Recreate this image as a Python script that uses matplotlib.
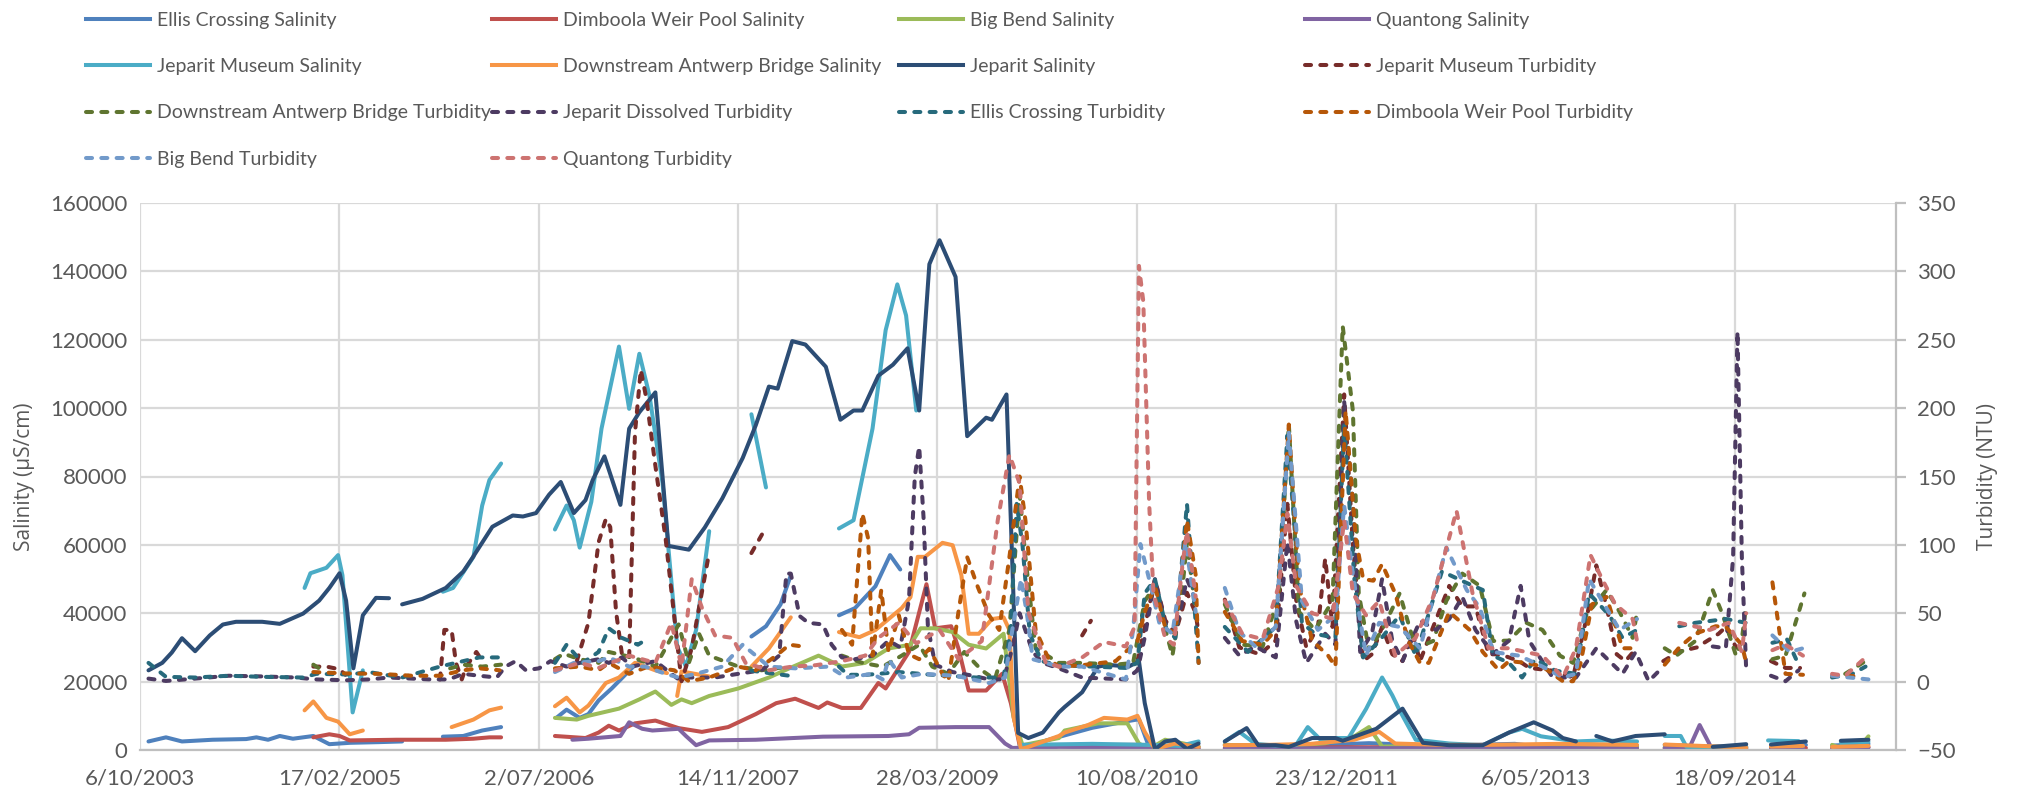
import numpy as np
import pandas as pd
import matplotlib
matplotlib.use('Agg')
import matplotlib.pyplot as plt
from matplotlib.lines import Line2D

# time axis: Excel date axis starting 6/10/2003 with a 500 day major unit
START = pd.Timestamp('2003-10-06')
END = pd.Timestamp('2015-10-27')
TICK_DAYS = 500

# each series is (decimal year, value); a None value breaks the line
ellis_sal = [(2003.82, 2500), (2003.94, 3700), (2004.05, 2500), (2004.26, 3000), (2004.49, 3200),
             (2004.56, 3700), (2004.64, 3000), (2004.72, 4100), (2004.81, 3300), (2004.95, 4100),
             (2005.06, 1700), (2005.20, 2100), (2005.40, 2300), (2005.56, 2500), (2005.70, None),
             (2005.84, 3900), (2005.98, 4100), (2006.11, 5700), (2006.24, 6700), (2006.40, None),
             (2006.62, 9400), (2006.69, 11800), (2006.78, 9400), (2006.84, 10500), (2006.91, 14500),
             (2007.00, 18000), (2007.16, 24900), (2007.20, 26000), (2007.50, None),
             (2007.96, 33200), (2008.06, 36200), (2008.16, 42600), (2008.23, 51100), (2008.40, None),
             (2008.56, 39400), (2008.67, 41500), (2008.81, 47900), (2008.91, 57000), (2008.98, 52800),
             (2009.40, None),
             (2009.82, 500), (2010.00, 3000), (2010.30, 6500), (2010.55, 8500), (2010.62, 9000),
             (2010.68, 2000), (2010.75, 200), (2010.87, 1500), (2011.03, 1000), (2011.12, None),
             (2011.21, 1500), (2011.50, 1200), (2011.90, 1500), (2012.20, 2000), (2012.50, 1500),
             (2012.90, 1500), (2013.20, 1800), (2013.40, 800), (2013.46, 0), (2013.55, 1000),
             (2013.80, 1500), (2014.04, 1200), (2014.12, None), (2014.23, 1500), (2014.50, 1000),
             (2014.79, 900), (2014.88, None), (2014.96, 1200), (2015.20, 1500), (2015.30, None),
             (2015.38, 1300), (2015.63, 1800)]

dimboola_sal = [(2004.95, 3700), (2005.06, 4600), (2005.13, 4100), (2005.20, 2800), (2005.52, 3000),
                (2005.86, 3000), (2006.05, 3300), (2006.16, 3700), (2006.24, 3700), (2006.40, None),
                (2006.61, 4100), (2006.82, 3500), (2006.91, 5100), (2006.98, 7100), (2007.05, 5700),
                (2007.16, 7800), (2007.30, 8600), (2007.46, 6400), (2007.62, 5300), (2007.80, 6700),
                (2007.99, 10500), (2008.13, 13700), (2008.26, 15000), (2008.42, 12300), (2008.48, 13900),
                (2008.58, 12300), (2008.71, 12300), (2008.83, 19600), (2008.88, 18000), (2009.04, 28700),
                (2009.16, 48500), (2009.22, 35600), (2009.33, 36200), (2009.38, 29700), (2009.45, 17400),
                (2009.57, 17400), (2009.68, 22300), (2009.74, 13700), (2009.80, 1400), (2010.07, 1400),
                (2010.60, 1500), (2010.68, 400), (2011.03, 500), (2011.12, None),
                (2011.21, 600), (2012.00, 800), (2013.00, 800), (2014.04, 800), (2014.12, None),
                (2014.23, 500), (2014.79, 500), (2014.88, None), (2014.96, 600), (2015.20, 600),
                (2015.30, None), (2015.38, 700), (2015.63, 800)]

bigbend_sal = [(2006.61, 9400), (2006.76, 8900), (2006.84, 10000), (2007.05, 12100), (2007.19, 14800),
               (2007.30, 17100), (2007.41, 13200), (2007.48, 14800), (2007.55, 13700), (2007.67, 15800),
               (2007.87, 18000), (2008.08, 21200), (2008.22, 23900), (2008.42, 27600), (2008.58, 24400),
               (2008.74, 25500), (2008.90, 29700), (2009.05, 30800), (2009.12, 35600), (2009.22, 35600),
               (2009.34, 34500), (2009.45, 30800), (2009.57, 29700), (2009.69, 34000), (2009.76, 9400),
               (2009.82, 1400), (2010.07, 3500), (2010.11, 5700), (2010.34, 7800), (2010.54, 7800),
               (2010.62, 1900), (2010.69, 300), (2010.80, 3000), (2011.03, 1000), (2011.12, None),
               (2011.21, 1500), (2011.60, 1000), (2011.90, 2000), (2012.10, 4000), (2012.20, 6700),
               (2012.29, 1000), (2012.60, 1200), (2013.00, 1000), (2013.50, 1200), (2014.04, 1000),
               (2014.12, None), (2014.23, 800), (2014.79, 600), (2014.88, None), (2014.96, 800),
               (2015.18, 800), (2015.30, None), (2015.38, 1500), (2015.47, 0), (2015.52, 0),
               (2015.58, 1500), (2015.63, 4000)]

quantong_sal = [(2006.73, 3000), (2006.84, 3300), (2007.06, 4100), (2007.12, 8100), (2007.21, 6200),
                (2007.28, 5700), (2007.46, 6200), (2007.51, 4100), (2007.58, 1400), (2007.67, 2800),
                (2007.99, 3000), (2008.45, 3900), (2008.90, 4100), (2009.04, 4600), (2009.11, 6500),
                (2009.36, 6700), (2009.59, 6700), (2009.70, 1900), (2009.75, 600), (2010.07, 900),
                (2010.60, 800), (2010.70, 300), (2011.03, 300), (2011.12, None),
                (2011.21, 400), (2012.00, 500), (2013.00, 600), (2014.04, 500), (2014.12, None),
                (2014.23, 600), (2014.40, 700), (2014.47, 7300), (2014.55, 700), (2014.79, 600),
                (2014.88, None), (2014.96, 500), (2015.18, 500), (2015.30, None),
                (2015.38, 600), (2015.63, 700)]

jepmus_sal = [(2004.89, 47400), (2004.93, 51700), (2005.04, 53300), (2005.12, 57000), (2005.15, 51100),
              (2005.22, 11000), (2005.29, 23300), (2005.50, None),
              (2005.84, 46300), (2005.91, 47400), (2006.05, 56500), (2006.11, 71500), (2006.16, 79000),
              (2006.24, 83800), (2006.40, None),
              (2006.61, 64500), (2006.69, 71500), (2006.74, 67200), (2006.78, 59200), (2006.86, 72600),
              (2006.93, 94000), (2007.05, 118000), (2007.12, 99800), (2007.19, 115900), (2007.26, 103600),
              (2007.35, 77900), (2007.45, 30300), (2007.51, 24400), (2007.58, 35100), (2007.67, 64000),
              (2007.80, None), (2007.96, 98200), (2008.06, 76800), (2008.30, None),
              (2008.56, 64800), (2008.66, 67200), (2008.79, 94000), (2008.88, 122800), (2008.96, 136200),
              (2009.02, 127100), (2009.09, 99300), (2009.40, None),
              (2009.80, 1500), (2010.30, 1800), (2010.70, 1500), (2010.90, 1200), (2011.03, 2500),
              (2011.12, None),
              (2011.21, 2500), (2011.31, 5300), (2011.42, 1800), (2011.56, 1300), (2011.70, 1500),
              (2011.78, 6700), (2011.88, 2500), (2011.97, 3500), (2012.06, 3500), (2012.18, 12000),
              (2012.29, 21200), (2012.36, 16000), (2012.41, 11600), (2012.52, 3000), (2012.75, 1900),
              (2012.98, 1400), (2013.16, 5100), (2013.25, 6200), (2013.38, 4000), (2013.62, 2500),
              (2013.80, 2800), (2014.04, 2500), (2014.12, None),
              (2014.23, 4100), (2014.34, 4100), (2014.38, 900), (2014.79, 1000), (2014.88, None),
              (2014.94, 2800), (2015.15, 2600), (2015.30, None), (2015.44, 2000), (2015.63, 2400)]

antwerp_sal = [(2004.89, 11600), (2004.95, 14200), (2005.04, 9400), (2005.12, 8300), (2005.20, 4600),
               (2005.29, 5700), (2005.50, None),
               (2005.90, 6700), (2006.05, 8900), (2006.16, 11600), (2006.24, 12400), (2006.40, None),
               (2006.61, 12800), (2006.69, 15300), (2006.78, 11000), (2006.84, 13000), (2006.96, 19600),
               (2007.05, 21200), (2007.16, 25500), (2007.30, 23300), (2007.38, 22500), (2007.42, None),
               (2007.45, 15800), (2007.48, 23000), (2007.67, 21500), (2007.80, None),
               (2007.96, 24400), (2008.08, 29700), (2008.23, 38800), (2008.40, None),
               (2008.56, 34500), (2008.70, 33000), (2008.81, 35100), (2008.99, 41500), (2009.05, 44700),
               (2009.10, 56500), (2009.15, 56500), (2009.27, 60600), (2009.34, 59900), (2009.40, 51100),
               (2009.45, 34000), (2009.52, 34000), (2009.61, 38300), (2009.69, 38800), (2009.73, 35100),
               (2009.76, 9400), (2009.81, 300), (2009.86, 900), (2010.07, 4100), (2010.11, 5100),
               (2010.27, 7300), (2010.38, 9400), (2010.54, 8900), (2010.61, 10000), (2010.66, 5300),
               (2010.73, 300), (2010.87, 1900), (2011.03, 900), (2011.12, None),
               (2011.21, 1400), (2011.50, 1500), (2011.80, 1800), (2012.10, 3000), (2012.27, 5300),
               (2012.38, 1900), (2012.70, 1500), (2013.00, 1500), (2013.50, 1800), (2014.04, 1500),
               (2014.12, None), (2014.23, 1600), (2014.79, 700), (2014.88, None),
               (2014.96, 1000), (2015.18, 1200), (2015.30, None), (2015.38, 900), (2015.63, 1200)]

jeparit_sal = [(2003.82, 23300), (2003.915, 25500), (2003.98, 28500), (2004.05, 32700), (2004.14, 28900),
               (2004.24, 33500), (2004.33, 36700), (2004.42, 37500), (2004.60, 37500), (2004.72, 36900),
               (2004.88, 39900), (2004.99, 43700), (2005.06, 47400), (2005.13, 51700), (2005.175, 43700),
               (2005.225, 23900), (2005.29, 39400), (2005.38, 44500), (2005.47, 44400), (2005.51, None),
               (2005.56, 42600), (2005.70, 44200), (2005.86, 47400), (2005.98, 52200), (2006.04, 56000),
               (2006.18, 65300), (2006.32, 68600), (2006.39, 68300), (2006.48, 69300), (2006.57, 74700),
               (2006.65, 78400), (2006.74, 69300), (2006.82, 73100), (2006.87, 79000), (2006.95, 85900),
               (2007.06, 71700), (2007.12, 94000), (2007.19, 98800), (2007.30, 104600), (2007.39, 59700),
               (2007.53, 58600), (2007.64, 65100), (2007.76, 73600), (2007.90, 85400), (2007.99, 95000),
               (2008.08, 106300), (2008.14, 105700), (2008.24, 119600), (2008.33, 118600), (2008.47, 112100),
               (2008.57, 96600), (2008.66, 99300), (2008.72, 99300), (2008.83, 109500), (2008.93, 112700),
               (2009.03, 117500), (2009.11, 99300), (2009.18, 142100), (2009.25, 149100), (2009.36, 138400),
               (2009.44, 91800), (2009.57, 97200), (2009.61, 96600), (2009.71, 104000), (2009.79, 5000),
               (2009.86, 3500), (2009.96, 5100), (2010.07, 11000), (2010.11, 12600), (2010.23, 16900),
               (2010.34, 24400), (2010.41, 24900), (2010.55, 24400), (2010.62, 26000), (2010.66, 13700),
               (2010.73, 200), (2010.80, 2500), (2010.87, 3000), (2010.95, 300), (2011.03, 1900),
               (2011.12, None),
               (2011.21, 2500), (2011.36, 6400), (2011.44, 1400), (2011.56, 1400), (2011.65, 900),
               (2011.81, 3500), (2011.97, 3500), (2012.02, 2700), (2012.25, 6200), (2012.43, 12100),
               (2012.57, 2100), (2012.75, 1400), (2012.98, 1400), (2013.16, 5100), (2013.33, 8100),
               (2013.46, 5700), (2013.53, 3500), (2013.62, 2500), (2013.69, None),
               (2013.76, 4100), (2013.87, 2500), (2014.03, 4100), (2014.23, 4600), (2014.40, None),
               (2014.56, 900), (2014.79, 1700), (2014.88, None), (2014.96, 1600), (2015.20, 2500),
               (2015.32, None), (2015.44, 2700), (2015.63, 3000)]

jepmus_turb = [(2004.95, 11), (2005.04, 11), (2005.13, 9), (2005.17, 5), (2005.40, None),
               (2005.82, 1.6), (2005.85, 37.8), (2005.90, 37.8), (2005.93, 13.7), (2005.97, 1.6),
               (2006.00, 11), (2006.07, 21.7), (2006.12, 13.7), (2006.40, None),
               (2006.76, 15), (2006.84, 43), (2006.91, 102), (2006.96, 119), (2006.99, 113), (2007.03, 51),
               (2007.07, 20.4), (2007.12, 17.7), (2007.16, 182), (2007.20, 228), (2007.24, 206),
               (2007.30, 158), (2007.37, 105), (2007.44, 37.8), (2007.48, 0.3), (2007.55, 24.4),
               (2007.60, 54), (2007.66, 88.6), (2007.80, None), (2007.96, 94), (2008.04, 109),
               (2008.10, None), (2010.23, 33.8), (2010.29, 44.5), (2010.40, None),
               (2010.61, 15), (2010.66, 40), (2010.73, 75), (2010.80, 45), (2010.87, 35), (2010.95, 65),
               (2011.01, 50), (2011.03, 35), (2011.12, None),
               (2011.21, 60), (2011.31, 25), (2011.45, 20), (2011.56, 30), (2011.64, 130), (2011.70, 60),
               (2011.77, 25), (2011.85, 40), (2011.90, 90), (2011.95, 40), (2012.03, 210), (2012.09, 100),
               (2012.16, 15), (2012.22, 20), (2012.29, 40), (2012.36, 20), (2012.43, 15), (2012.50, 35),
               (2012.55, 15), (2012.64, 40), (2012.75, 70), (2012.84, 55), (2012.93, 55), (2013.02, 20),
               (2013.10, 20), (2013.23, 15), (2013.30, 10), (2013.46, 8), (2013.60, 3), (2013.70, 50),
               (2013.76, 85), (2013.83, 55), (2013.90, 20), (2013.96, 15), (2014.04, 25), (2014.12, None),
               (2014.22, 15), (2014.33, 22), (2014.45, 25), (2014.60, 35), (2014.65, 40), (2014.72, 25),
               (2014.79, 25), (2014.88, None), (2014.96, 15), (2015.06, 10), (2015.16, 10)]

antwerp_turb = [(2004.95, 12.4), (2005.01, 8.3), (2005.40, None),
                (2005.89, 9.7), (2005.98, 12.4), (2006.11, 11), (2006.24, 12.4), (2006.40, None),
                (2006.61, 16.4), (2006.67, 20.4), (2006.78, 16.4), (2006.91, 13.7), (2006.98, 21.7),
                (2007.09, 19), (2007.18, 16.4), (2007.30, 11), (2007.46, 41.8), (2007.53, 13.7),
                (2007.60, 35), (2007.67, 19), (2007.87, 11), (2008.03, 8.3), (2008.22, 11), (2008.40, None),
                (2008.58, 19), (2008.72, 13.7), (2008.86, 11), (2008.99, 19), (2009.11, 27), (2009.20, 11),
                (2009.31, 5.7), (2009.42, 21.7), (2009.54, 8.3), (2009.63, 1.6), (2009.73, 37.8),
                (2009.80, 137), (2009.84, 91), (2009.91, 24.4), (2010.07, 13.7), (2010.23, 13.7),
                (2010.46, 12.4), (2010.58, 13.7), (2010.66, 59), (2010.73, 70), (2010.81, 35),
                (2010.85, 19), (2010.91, 59), (2010.95, 102), (2011.01, 51), (2011.12, None),
                (2011.21, 56.5), (2011.33, 27), (2011.47, 25.7), (2011.58, 62), (2011.65, 188),
                (2011.72, 51), (2011.83, 37.8), (2011.95, 59), (2012.02, 260), (2012.09, 198),
                (2012.13, 64.5), (2012.20, 23), (2012.29, 37.8), (2012.41, 64.5), (2012.52, 24.4),
                (2012.64, 29.7), (2012.73, 59), (2012.84, 79), (2012.96, 70), (2013.05, 29.7),
                (2013.16, 30), (2013.28, 43), (2013.39, 37.8), (2013.51, 19), (2013.60, 13.7),
                (2013.69, 48.5), (2013.83, 67), (2013.92, 51), (2014.01, 32), (2014.04, 51), (2014.12, None),
                (2014.23, 24.4), (2014.31, 19), (2014.44, 29.7), (2014.56, 67), (2014.63, 48.5),
                (2014.72, 19), (2014.76, 31), (2014.79, 56), (2014.88, None),
                (2014.97, 16.4), (2015.06, 19), (2015.19, 64.5), (2015.30, None),
                (2015.47, 5.7), (2015.63, 16.4)]

jepdis_turb = [(2003.82, 2.2), (2003.94, 0.5), (2004.14, 2.2), (2004.37, 4.3), (2004.60, 3.8),
               (2004.83, 3), (2004.97, 1.6), (2005.18, 1.0), (2005.33, 1.6), (2005.47, 3), (2005.75, 1.6),
               (2005.88, 1.6), (2005.98, 5.7), (2006.09, 4.3), (2006.21, 3), (2006.27, 11), (2006.34, 15),
               (2006.41, 8.3), (2006.50, 9.7), (2006.58, 15), (2006.69, 11), (2006.78, 13.7),
               (2006.91, 16.4), (2006.98, 13.7), (2007.07, 17.7), (2007.14, 11), (2007.30, 15),
               (2007.46, 1.6), (2007.53, 3), (2007.71, 3), (2007.87, 5.7), (2008.03, 8.3), (2008.15, 19),
               (2008.20, 79), (2008.23, 79), (2008.29, 48), (2008.35, 43), (2008.45, 41.8), (2008.51, 27),
               (2008.58, 17.7), (2008.67, 16.4), (2008.79, 19), (2008.90, 30), (2008.98, 25),
               (2009.04, 60), (2009.08, 150), (2009.11, 172), (2009.14, 120), (2009.17, 40),
               (2009.22, 12.4), (2009.34, 7), (2009.48, 4.3), (2009.59, 1.6), (2009.69, 1.6),
               (2009.75, 24.4), (2009.80, 50), (2009.89, 21.7), (2009.96, 13.7), (2010.07, 9.7),
               (2010.23, 3), (2010.53, 1.6), (2010.61, 8.3), (2010.66, 32.4), (2010.73, 75),
               (2010.80, 43), (2010.87, 35), (2010.95, 75), (2011.03, 54), (2011.12, None),
               (2011.21, 32), (2011.31, 19), (2011.42, 25.7), (2011.56, 17.7), (2011.64, 102),
               (2011.70, 44.5), (2011.77, 13.7), (2011.90, 35), (2011.97, 27), (2012.03, 205),
               (2012.09, 131), (2012.14, 21.7), (2012.22, 35), (2012.29, 75), (2012.36, 29.7),
               (2012.43, 15), (2012.55, 44.5), (2012.66, 37.8), (2012.75, 45.8), (2012.84, 61.9),
               (2012.93, 37.8), (2013.05, 20.4), (2013.16, 30), (2013.24, 70), (2013.30, 29.7),
               (2013.46, 3), (2013.62, 3), (2013.76, 24.4), (2013.94, 5.7), (2014.03, 21.7),
               (2014.12, 0.3), (2014.22, 11), (2014.40, None),
               (2014.56, 25.7), (2014.65, 24.4), (2014.70, 91), (2014.73, 256), (2014.76, 91),
               (2014.79, 8.3), (2014.88, None), (2014.96, 4.3), (2015.06, 0.3), (2015.15, 8.3)]

ellis_turb = [(2003.82, 13.7), (2003.94, 3.5), (2004.14, 3), (2004.37, 4.3), (2004.60, 3.5),
              (2004.88, 3), (2004.97, 5.7), (2005.20, 5.2), (2005.33, 7), (2005.56, 3), (2005.82, 11),
              (2005.98, 15), (2006.09, 17.7), (2006.23, 17.7), (2006.40, None),
              (2006.61, 13.7), (2006.69, 27), (2006.80, 13.7), (2006.91, 21.7), (2006.98, 39),
              (2007.07, 32), (2007.18, 27), (2007.24, 31), (2007.50, None),
              (2007.96, 8), (2008.10, 6), (2008.22, 4.3), (2008.40, None),
              (2008.56, 11), (2008.62, 5), (2008.75, 5), (2008.97, 7), (2009.20, 5), (2009.50, 3),
              (2009.69, 3), (2009.74, 40), (2009.78, 130), (2009.82, 100), (2009.87, 35),
              (2009.95, 15), (2010.07, 12), (2010.30, 11), (2010.53, 10), (2010.61, 13.7),
              (2010.66, 64.5), (2010.73, 75), (2010.81, 37.8), (2010.87, 32), (2010.95, 130),
              (2011.03, 13.7), (2011.12, None),
              (2011.21, 40), (2011.37, 21.7), (2011.56, 40), (2011.64, 180), (2011.74, 43),
              (2011.83, 35), (2011.97, 32), (2012.03, 188), (2012.10, 75), (2012.16, 17.7),
              (2012.27, 29.7), (2012.41, 48.5), (2012.52, 19), (2012.70, 80.6), (2012.86, 72.6),
              (2012.98, 67), (2013.05, 19), (2013.16, 13.7), (2013.25, 3), (2013.34, 16.4),
              (2013.48, 8), (2013.62, 5.7), (2013.71, 64.5), (2013.85, 48.5), (2013.94, 32),
              (2014.04, 37.8), (2014.12, None),
              (2014.33, 40.5), (2014.44, 43), (2014.65, 45.8), (2014.79, 43), (2014.88, None),
              (2014.97, 28.4), (2015.07, 31), (2015.15, 12.4), (2015.30, None),
              (2015.38, 3), (2015.52, 5.7), (2015.61, 11)]

dimboola_turb = [(2004.95, 7), (2005.17, 6), (2005.40, 5.7), (2005.63, 4.3), (2005.82, 4.3),
                 (2005.98, 8.3), (2006.09, 9.7), (2006.23, 8.3), (2006.40, None),
                 (2006.61, 9.7), (2006.78, 11), (2006.91, 8.3), (2006.98, 13.7), (2007.12, 5.7),
                 (2007.25, 11), (2007.43, 8.3), (2007.53, 0.3), (2007.67, 3), (2007.87, 11),
                 (2007.99, 8.3), (2008.13, 19), (2008.22, 27), (2008.29, 26), (2008.40, None),
                 (2008.58, 37.8), (2008.65, 27), (2008.72, 123), (2008.76, 104.7), (2008.79, 19),
                 (2008.85, 67), (2008.90, 21.7), (2008.97, 48.5), (2009.04, 20), (2009.11, 16.4),
                 (2009.18, 24), (2009.27, 5.7), (2009.31, 0.3), (2009.38, 51), (2009.44, 91),
                 (2009.51, 70), (2009.59, 48.5), (2009.66, 37.8), (2009.73, 91), (2009.80, 150),
                 (2009.84, 118), (2009.91, 37.8), (2010.00, 16.4), (2010.07, 11), (2010.23, 12),
                 (2010.46, 15), (2010.61, 29.7), (2010.66, 51), (2010.73, 70), (2010.80, 40),
                 (2010.87, 35), (2010.95, 118), (2011.01, 78), (2011.03, 13.7), (2011.12, None),
                 (2011.21, 51), (2011.33, 29.7), (2011.47, 27), (2011.56, 37.8), (2011.65, 188),
                 (2011.72, 70), (2011.81, 30), (2011.92, 19), (2011.97, 11), (2012.04, 198),
                 (2012.11, 104.7), (2012.16, 75), (2012.23, 73.8), (2012.29, 86), (2012.38, 64.5),
                 (2012.47, 29.7), (2012.55, 13.7), (2012.61, 13.7), (2012.75, 51), (2012.89, 37.8),
                 (2012.98, 21.7), (2013.09, 8.3), (2013.16, 15), (2013.28, 13.7), (2013.39, 11),
                 (2013.53, 0.3), (2013.60, 0.3), (2013.65, 12.4), (2013.73, 56.5), (2013.83, 61.9),
                 (2013.94, 24.4), (2014.04, 24.4), (2014.12, None),
                 (2014.23, 12.4), (2014.33, 25), (2014.44, 35), (2014.58, 40.5), (2014.65, 40),
                 (2014.76, 27), (2014.79, 13.7), (2014.88, None),
                 (2014.97, 72.6), (2015.06, 5.7), (2015.18, 5), (2015.30, None),
                 (2015.38, 4.3), (2015.56, 4)]

bigbend_turb = [(2006.61, 7), (2006.74, 13.7), (2006.91, 15), (2006.98, 17.7), (2007.12, 11),
                (2007.23, 11), (2007.37, 5.7), (2007.46, 3), (2007.58, 5.7), (2007.76, 11),
                (2007.90, 27), (2008.08, 11), (2008.26, 9.7), (2008.49, 11), (2008.61, 3),
                (2008.79, 5.7), (2008.86, 1.6), (2008.90, 16.4), (2008.99, 3), (2009.13, 5.7),
                (2009.36, 4.3), (2009.59, -1), (2009.70, 3), (2009.75, 37.8), (2009.81, 75),
                (2009.85, 50), (2009.89, 16.4), (2010.07, 11), (2010.23, 11), (2010.53, 1.6),
                (2010.58, 37.8), (2010.63, 100.6), (2010.69, 75), (2010.76, 43), (2010.85, 35),
                (2010.94, 102), (2011.01, 51), (2011.12, None),
                (2011.21, 68.5), (2011.31, 36.4), (2011.42, 25.7), (2011.56, 40), (2011.65, 182),
                (2011.74, 59), (2011.85, 37.8), (2011.97, 48.5), (2012.03, 129), (2012.09, 78),
                (2012.18, 19), (2012.27, 43), (2012.41, 40), (2012.55, 24.4), (2012.73, 98),
                (2012.87, 67), (2012.96, 54), (2013.05, 21.7), (2013.16, 20), (2013.23, 19),
                (2013.39, 11), (2013.53, 3), (2013.62, 5.7), (2013.71, 75), (2013.80, 59),
                (2013.92, 37.8), (2014.04, 45.8), (2014.12, None),
                (2014.97, 33.8), (2015.09, 21.7), (2015.18, 24.4), (2015.30, None),
                (2015.38, 4.3), (2015.63, 1.6)]

quantong_turb = [(2006.61, 8.3), (2006.78, 13.7), (2006.91, 10), (2007.12, 19), (2007.30, 13.7),
                 (2007.41, 43), (2007.48, 11), (2007.55, 75), (2007.62, 54), (2007.71, 33.8),
                 (2007.83, 32), (2007.92, 13.7), (2008.08, 8.3), (2008.24, 11), (2008.40, 12),
                 (2008.58, 15), (2008.74, 19), (2008.83, 32), (2008.97, 43), (2009.09, 28),
                 (2009.25, 37.8), (2009.38, 16.4), (2009.54, 29.7), (2009.65, 118), (2009.73, 166),
                 (2009.80, 145), (2009.86, 51), (2009.98, 13.7), (2010.07, 11), (2010.23, 17.7),
                 (2010.38, 29), (2010.53, 25.7), (2010.59, 40), (2010.62, 304), (2010.65, 278),
                 (2010.69, 131), (2010.72, 64.5), (2010.80, 32), (2010.86, 27), (2010.92, 86),
                 (2010.95, 110), (2011.01, 62), (2011.12, None),
                 (2011.21, 59), (2011.33, 35), (2011.47, 31), (2011.58, 70), (2011.64, 123),
                 (2011.70, 70), (2011.81, 50), (2011.95, 46), (2012.03, 118), (2012.09, 64.5),
                 (2012.18, 48.5), (2012.27, 59), (2012.38, 19), (2012.52, 32), (2012.64, 62),
                 (2012.80, 125), (2012.91, 64.5), (2013.02, 24.4), (2013.16, 24.4), (2013.39, 19),
                 (2013.53, 3), (2013.62, 24.4), (2013.72, 92.6), (2013.80, 75), (2013.89, 56.5),
                 (2014.01, 45.8), (2014.04, 29.7), (2014.12, None),
                 (2014.33, 43), (2014.54, 37.8), (2014.67, 43), (2014.76, 21.7), (2014.79, 50),
                 (2014.88, None), (2014.97, 23), (2015.06, 27), (2015.18, 19), (2015.30, None),
                 (2015.38, 5.7), (2015.47, 4.3), (2015.61, 17.7)]

# legend order (row by row, four columns)
series = [
    ('Ellis Crossing Salinity', ellis_sal, '#4F81BD', 'sal'),
    ('Dimboola Weir Pool Salinity', dimboola_sal, '#C0504D', 'sal'),
    ('Big Bend Salinity', bigbend_sal, '#9BBB59', 'sal'),
    ('Quantong Salinity', quantong_sal, '#8064A2', 'sal'),
    ('Jeparit Museum Salinity', jepmus_sal, '#4BACC6', 'sal'),
    ('Downstream Antwerp Bridge Salinity', antwerp_sal, '#F79646', 'sal'),
    ('Jeparit Salinity', jeparit_sal, '#2C4D75', 'sal'),
    ('Jeparit Museum Turbidity', jepmus_turb, '#772C2A', 'turb'),
    ('Downstream Antwerp Bridge Turbidity', antwerp_turb, '#5F7530', 'turb'),
    ('Jeparit Dissolved Turbidity', jepdis_turb, '#4D3B62', 'turb'),
    ('Ellis Crossing Turbidity', ellis_turb, '#276A7C', 'turb'),
    ('Dimboola Weir Pool Turbidity', dimboola_turb, '#B65708', 'turb'),
    ('Big Bend Turbidity', bigbend_turb, '#729ACA', 'turb'),
    ('Quantong Turbidity', quantong_turb, '#CD7371', 'turb'),
]

LW = 2.9
DASH = (1.5, 2.3)
TXT = '#595959'
GRID = '#D9D9D9'
FONT = 'Lato'


def to_dates(years):
    out = []
    for y in years:
        yi = int(y)
        ndays = 366 if yi % 4 == 0 else 365
        out.append(pd.Timestamp(year=yi, month=1, day=1) + pd.Timedelta(days=(y - yi) * ndays))
    return out


def unpack(pts):
    t = to_dates([p[0] for p in pts])
    v = np.array([np.nan if p[1] is None else p[1] for p in pts], dtype=float)
    return t, v


W, H = 2019, 797
fig = plt.figure(figsize=(W / 100, H / 100), dpi=100)
L, R, T, B = 140, 1896, 203, 750
ax = fig.add_axes([L / W, 1 - B / H, (R - L) / W, (B - T) / H])
ax2 = ax.twinx()

handles = []
for name, pts, color, kind in series:
    t, v = unpack(pts)
    if kind == 'sal':
        ax.plot(t, v, color=color, lw=LW, solid_capstyle='round', solid_joinstyle='round')
        h = Line2D([], [], color=color, lw=LW)
    else:
        ax2.plot(t, v, color=color, lw=LW, dashes=DASH, dash_capstyle='round',
                 dash_joinstyle='round')
        h = Line2D([], [], color=color, lw=LW, dashes=DASH, dash_capstyle='round')
    handles.append((h, name))

ax.set_ylim(0, 160000)
ax.set_yticks(np.arange(0, 160001, 20000))
ax2.set_ylim(-50, 350)
ax2.set_yticks(np.arange(-50, 351, 50))

ticks = [START + pd.Timedelta(days=TICK_DAYS * k) for k in range(9)]
ax.set_xlim(START, END)
ax.set_xticks(ticks)
ax.set_xticklabels([f'{d.day}/{d.month:02d}/{d.year}' for d in ticks])

ax.grid(True, color=GRID, lw=1.6)
ax.set_axisbelow(True)
for a in (ax, ax2):
    a.spines['top'].set_visible(False)
    a.spines['left'].set_visible(False)
ax.spines['right'].set_visible(False)
ax2.spines['right'].set_color('#BFBFBF')
ax2.spines['right'].set_linewidth(1.6)
ax.spines['bottom'].set_color('#BFBFBF')
ax.spines['bottom'].set_linewidth(1.6)
ax2.spines['bottom'].set_visible(False)

ax.tick_params(axis='y', length=0, pad=9, labelsize=16, labelcolor=TXT)
ax.tick_params(axis='x', length=0, pad=13, labelsize=16, labelcolor=TXT)
ax2.tick_params(axis='y', length=7, width=1.6, color='#BFBFBF', pad=8, labelsize=16, labelcolor=TXT)
for lab in ax.get_xticklabels() + ax.get_yticklabels() + ax2.get_yticklabels():
    lab.set_fontfamily(FONT)

ax.set_ylabel('Salinity (µS/cm)', fontsize=15, color=TXT, family='Open Sans')
ax.yaxis.set_label_coords(-0.060, 0.5)
ax2.set_ylabel('Turbidity (NTU)', fontsize=15, color=TXT, family='Open Sans')
ax2.yaxis.set_label_coords(1.046, 0.5)

# legend: four fixed-width columns, filled row by row
col_x = [86, 492, 899, 1305]
for c in range(4):
    items = handles[c::4]
    leg = fig.legend([h for h, _ in items], [n for _, n in items],
                     loc='upper left', bbox_to_anchor=(col_x[c] / W, 1 - 12 / H),
                     frameon=False, borderpad=0, borderaxespad=0,
                     handlelength=3.3, handletextpad=0.35, labelspacing=1.5,
                     prop={'family': FONT, 'size': 14})
    for txt in leg.get_texts():
        txt.set_color(TXT)

fig.savefig('out.png', dpi=100)
